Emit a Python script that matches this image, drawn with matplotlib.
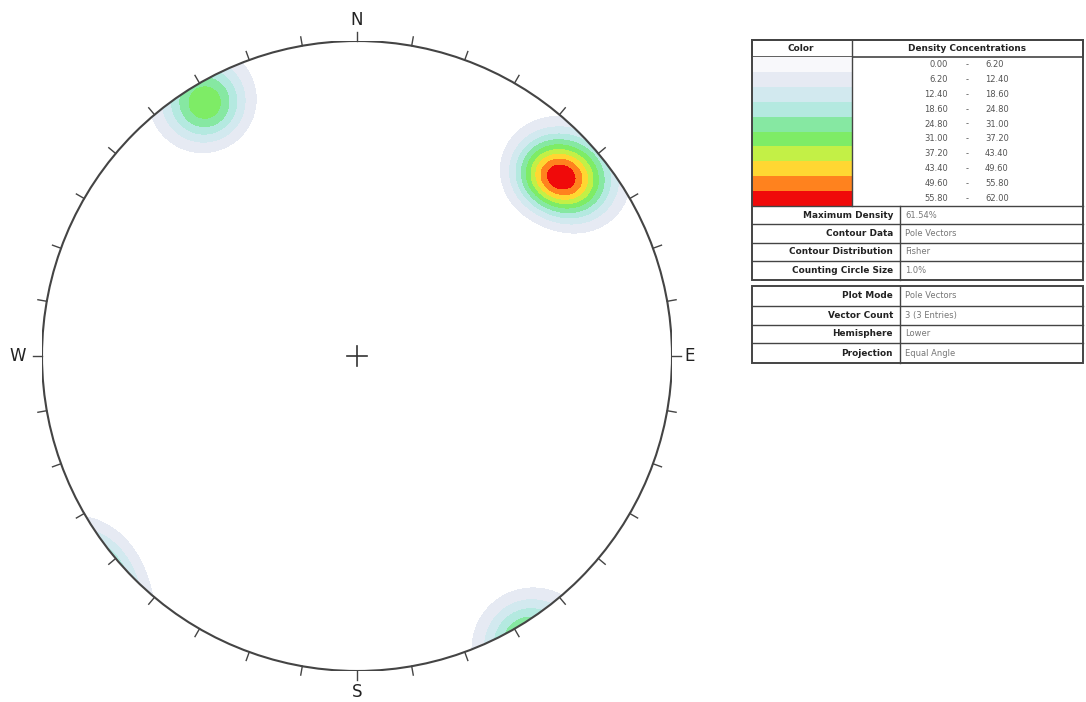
import numpy as np
import matplotlib
matplotlib.use("Agg")
from matplotlib import pyplot as plt
from matplotlib.patches import Rectangle, Circle

# poles (trend, plunge in degrees), lower hemisphere
pole_trend = [46.0, 51.5, 329.0]
pole_plunge = [10.0, 7.0, 3.7]
kappa = 110.0
peak = 35.0
max_density = 61.54

# density bins
levels = [0.00, 6.20, 12.40, 18.60, 24.80, 31.00, 37.20, 43.40, 49.60, 55.80, 62.00]
band_colors = ["#ffffff", "#e6eaf3", "#d2e9ef", "#b4e9e0", "#86e8a2",
               "#7eec66", "#c3f046", "#ffd732", "#ff821e", "#f00a0a"]
legend_colors = ["#f8f8fb"] + band_colors[1:]

info1_labels = ["Maximum Density", "Contour Data", "Contour Distribution", "Counting Circle Size"]
info1_values = ["61.54%", "Pole Vectors", "Fisher", "1.0%"]
info2_labels = ["Plot Mode", "Vector Count", "Hemisphere", "Projection"]
info2_values = ["Pole Vectors", "3 (3 Entries)", "Lower", "Equal Angle"]

W, H = 1086, 702
fig = plt.figure(figsize=(W / 100, H / 100), dpi=100)

# ---------- stereonet ----------
cx, cy, R = 357, 356, 315
ax = fig.add_axes([(cx - R) / W, (H - cy - R) / H, 2 * R / W, 2 * R / H])
ax.set_xlim(-1, 1)
ax.set_ylim(-1, 1)
ax.set_aspect("equal")
ax.axis("off")

n = 500
g = np.linspace(-1, 1, n)
X, Y = np.meshgrid(g, g)
r = np.hypot(X, Y)
delta = 2 * np.arctan(r)
az = np.arctan2(X, Y)
vx = np.sin(delta) * np.sin(az)
vy = np.sin(delta) * np.cos(az)
vz = -np.cos(delta)

dens = np.zeros_like(X)
for t, p in zip(pole_trend, pole_plunge):
    t, p = np.radians(t), np.radians(p)
    px, py, pz = np.cos(p) * np.sin(t), np.cos(p) * np.cos(t), -np.sin(p)
    c = np.abs(vx * px + vy * py + vz * pz)
    dens += peak * np.exp(kappa * (c - 1))
dens = np.ma.masked_where(r > 1, dens)
dens = dens * max_density / dens.max()

ax.contourf(X, Y, dens, levels=levels, colors=band_colors, extend="neither")

ax.add_patch(Circle((0, 0), 1, fill=False, ec="#444444", lw=1.5))

tick = 9 / R
for a in range(0, 360, 10):
    ar = np.radians(a)
    ax.plot([np.sin(ar), (1 + tick) * np.sin(ar)], [np.cos(ar), (1 + tick) * np.cos(ar)],
            color="#444444", lw=1.0, clip_on=False)

ax.plot([-10 / R, 10 / R], [0, 0], color="#333333", lw=1.2)
ax.plot([0, 0], [-10 / R, 10 / R], color="#333333", lw=1.2)

for lab, (x, y) in zip(["N", "E", "S", "W"], [(0, 1.067), (1.057, 0), (0, -1.067), (-1.076, 0)]):
    ax.text(x, y, lab, ha="center", va="center", fontsize=12, color="#222222", clip_on=False)

# ---------- legend table ----------
tx = fig.add_axes([0, 0, 1, 1])
tx.set_xlim(0, W)
tx.set_ylim(H, 0)
tx.axis("off")

L, Rr = 752, 1083
edge = "#444444"
fs = 6.4

# header
tx.add_patch(Rectangle((L, 40), Rr - L, 17, fill=False, ec=edge, lw=1.2))
tx.plot([852, 852], [40, 206], color=edge, lw=1.0)
tx.text(801, 48.5, "Color", ha="center", va="center", fontsize=fs, fontweight="bold", color="#222222")
tx.text(967, 48.5, "Density Concentrations", ha="center", va="center", fontsize=fs,
        fontweight="bold", color="#222222")

row_h = (206 - 57) / 10
for i in range(10):
    y0 = 57 + i * row_h
    tx.add_patch(Rectangle((L, y0), 852 - L, row_h, fc=legend_colors[i], ec="none"))
    ym = y0 + row_h / 2
    tx.text(948, ym, "%.2f" % levels[i], ha="right", va="center", fontsize=fs - 0.4, color="#555555")
    tx.text(967, ym, "-", ha="center", va="center", fontsize=fs - 0.4, color="#555555")
    tx.text(985, ym, "%.2f" % levels[i + 1], ha="left", va="center", fontsize=fs - 0.4, color="#555555")

# first info block
rows1 = [206, 224, 243, 261, 280]
tx.add_patch(Rectangle((L, 40), Rr - L, rows1[-1] - 40, fill=False, ec=edge, lw=1.4))
for yb in rows1[:-1]:
    tx.plot([L, Rr], [yb, yb], color=edge, lw=1.0)
tx.plot([900, 900], [rows1[0], rows1[-1]], color=edge, lw=1.0)
for i in range(4):
    ym = (rows1[i] + rows1[i + 1]) / 2
    tx.text(893, ym, info1_labels[i], ha="right", va="center", fontsize=fs, fontweight="bold", color="#222222")
    tx.text(905, ym, info1_values[i], ha="left", va="center", fontsize=fs - 0.4, color="#777777")

# second info block
rows2 = [286, 306, 325, 343, 363]
tx.add_patch(Rectangle((L, rows2[0]), Rr - L, rows2[-1] - rows2[0], fill=False, ec=edge, lw=1.4))
for yb in rows2[1:-1]:
    tx.plot([L, Rr], [yb, yb], color=edge, lw=1.0)
tx.plot([900, 900], [rows2[0], rows2[-1]], color=edge, lw=1.0)
for i in range(4):
    ym = (rows2[i] + rows2[i + 1]) / 2
    tx.text(893, ym, info2_labels[i], ha="right", va="center", fontsize=fs, fontweight="bold", color="#222222")
    tx.text(905, ym, info2_values[i], ha="left", va="center", fontsize=fs - 0.4, color="#777777")

fig.savefig("out.png", dpi=100)
